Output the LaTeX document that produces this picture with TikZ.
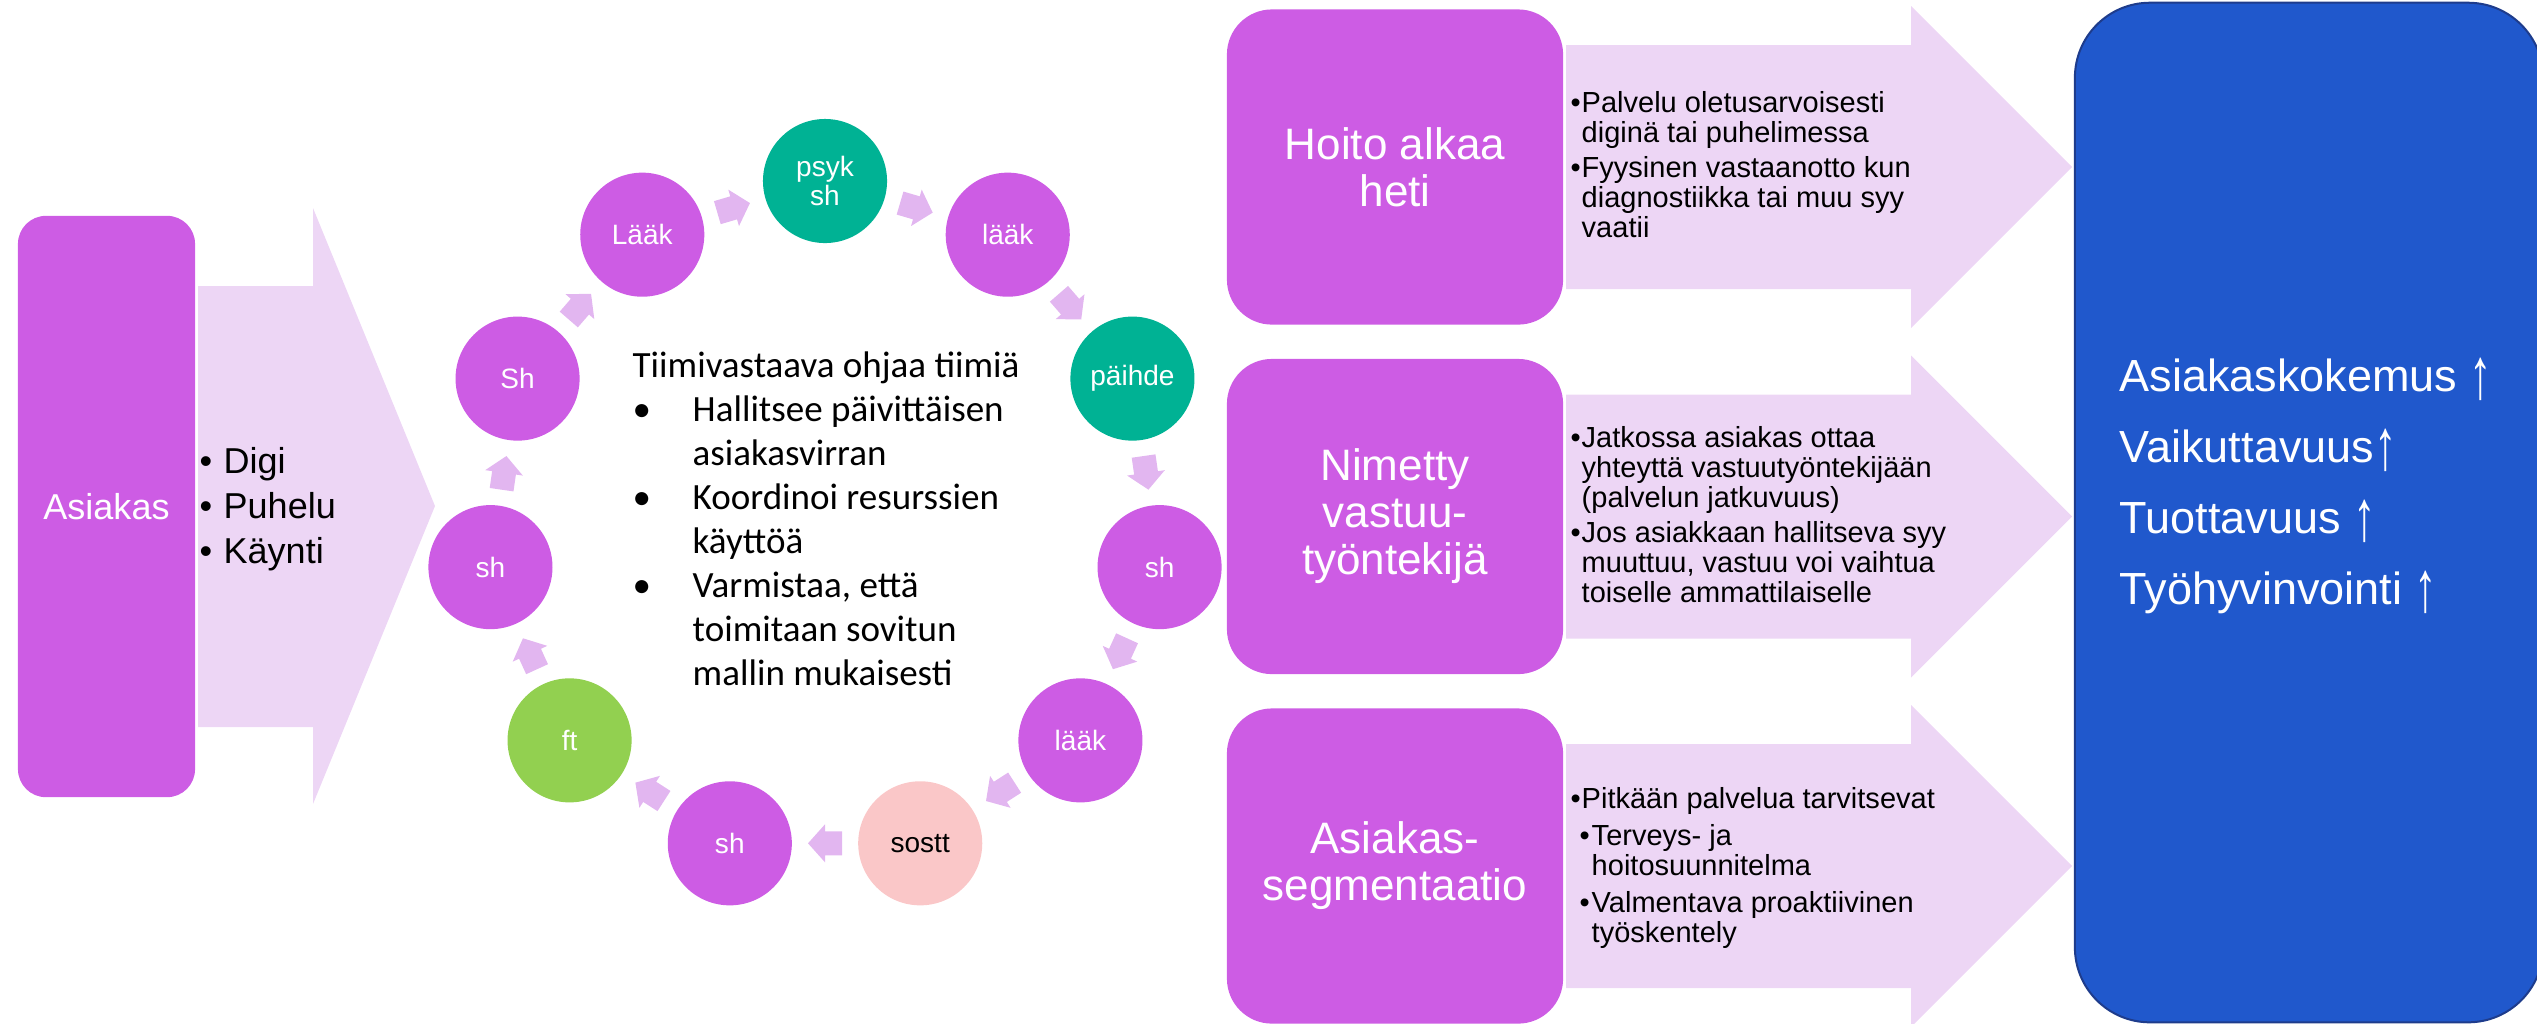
\documentclass[tikz,border=0pt]{standalone}
\usepackage{fontspec}
\usepackage{graphicx}
\setmainfont{Liberation Sans}
\newfontfamily\calibrifont{Carlito}
\usetikzlibrary{calc}
\newcommand\fsz[2]{\fontsize{#1pt}{#2pt}\selectfont}
\newcommand\upmark{\raisebox{-0.17em}{\scalebox{1}[1.6]{↑}}}
\definecolor{purp}{RGB}{205,92,228}
\definecolor{tealc}{RGB}{0,178,148}
\definecolor{lgreen}{RGB}{146,208,80}
\definecolor{pinkc}{RGB}{250,199,200}
\definecolor{bigarr}{RGB}{237,214,245}
\definecolor{smallarr}{RGB}{226,182,240}
\definecolor{bluec}{RGB}{32,88,204}
\definecolor{blueline}{RGB}{30,60,140}
\begin{document}
\begin{tikzpicture}[x=0.01cm,y=-0.01cm,
  purpbox/.style={fill=purp,text=white,inner sep=0,align=center},
  rowbox/.style={purpbox,rounded corners=0.45cm,minimum width=3.36cm,minimum height=3.15cm,font=\fsz{12.52}{13.37}},
  ring/.style={circle,fill=purp,text=white,minimum size=1.24cm,inner sep=0,align=center,font=\fsz{7.97}{8.25}},
  listtext/.style={anchor=base west,inner sep=0,font=\fsz{8.25}{8.54}},
  bigarrow/.style={fill=bigarr},
  cycarrow/.style={fill=smallarr}]
\useasboundingbox (0,0) rectangle (2537,1023);

% ---- customer and contact channels ----
\fill[bigarrow] (198,286) -- (313,286) -- (313,208) -- (435,506) -- (313,804) -- (313,727) -- (198,727) -- cycle;
\node[purpbox,rounded corners=0.28cm,minimum width=1.77cm,minimum height=5.81cm,font=\fsz{10.24}{12.8}] (asiakas) at (106.5,506.5) {Asiakas};
\node[anchor=base west,inner sep=0,font=\fsz{10.24}{12.8}] (kanavat) at (199,473) {\parbox[t]{3cm}{\raggedright
  \makebox[0.24cm][l]{•}Digi\\
  \makebox[0.24cm][l]{•}Puhelu\\
  \makebox[0.24cm][l]{•}Käynti}};

% ---- team cycle ----
\node[ring,fill=tealc] (c0) at (825,181) {psyk\\sh};
\foreach \i/\txt/\col/\tcol in {1/lääk/purp/white, 2/päihde/tealc/white, 3/sh/purp/white,
    4/lääk/purp/white, 5/sostt/pinkc/black, 6/sh/purp/white, 7/ft/lgreen/white,
    8/sh/purp/white, 9/Sh/purp/white, 10/Lääk/purp/white}
  \node[ring,fill=\col,text=\tcol] (c\i) at ({825+338*cos(90-32.7273*\i)},{519-338*sin(90-32.7273*\i)}) {\txt};

\foreach \i in {0,...,10}{
  \pgfmathtruncatemacro\j{mod(\i+1,11)}
  \pgfmathsetmacro\ang{-32.7273*\i-16.3636}
  \begin{scope}[shift={($(c\i)!0.5!(c\j)$)},rotate=\ang]
    \fill[cycarrow] (-17,-12) -- (0,-12) -- (0,-19) -- (17,0) -- (0,19) -- (0,12) -- (-17,12) -- cycle;
  \end{scope}
}

\node[anchor=base west,inner sep=0,font=\calibrifont\fsz{10.53}{12.52}] (tiimi) at (632,377) {\parbox[t]{5cm}{\raggedright
  Tiimivastaava ohjaa tiimiä\\
  \makebox[0.6cm][l]{•}Hallitsee päivittäisen\\
  \hspace*{0.6cm}asiakasvirran\\
  \makebox[0.6cm][l]{•}Koordinoi resurssien\\
  \hspace*{0.6cm}käyttöä\\
  \makebox[0.6cm][l]{•}Varmistaa, että\\
  \hspace*{0.6cm}toimitaan sovitun\\
  \hspace*{0.6cm}mallin mukaisesti}};

% ---- three service principles ----
\foreach \yc in {167,516.5,866}
  \fill[bigarrow] (1566,{\yc-122}) -- (1911,{\yc-122}) -- (1911,{\yc-161}) -- (2072,\yc)
    -- (1911,{\yc+161}) -- (1911,{\yc+122}) -- (1566,{\yc+122}) -- cycle;

\node[rowbox] (hoito) at (1395,167) {Hoito alkaa\\heti};
\node[rowbox] (nimetty) at (1395,516.5) {Nimetty\\vastuu-\\työntekijä};
\node[rowbox] (segmentti) at (1395,866) {Asiakas-\\segmentaatio};

\node[listtext] (hoitoteksti) at (1570,112) {\parbox[t]{4cm}{\raggedright
  \makebox[0.11cm][l]{•}Palvelu oletusarvoisesti\\
  \hspace*{0.11cm}diginä tai puhelimessa\\[0.05cm]
  \makebox[0.11cm][l]{•}Fyysinen vastaanotto kun\\
  \hspace*{0.11cm}diagnostiikka tai muu syy\\
  \hspace*{0.11cm}vaatii}};

\node[listtext] (nimettyteksti) at (1570,447) {\parbox[t]{4cm}{\raggedright
  \makebox[0.11cm][l]{•}Jatkossa asiakas ottaa\\
  \hspace*{0.11cm}yhteyttä vastuutyöntekijään\\
  \hspace*{0.11cm}(palvelun jatkuvuus)\\[0.05cm]
  \makebox[0.11cm][l]{•}Jos asiakkaan hallitseva syy\\
  \hspace*{0.11cm}muuttuu, vastuu voi vaihtua\\
  \hspace*{0.11cm}toiselle ammattilaiselle}};

\node[listtext] (segmenttiteksti) at (1570,808) {\parbox[t]{4cm}{\raggedright
  \makebox[0.11cm][l]{•}Pitkään palvelua tarvitsevat\\[0.07cm]
  \hspace*{0.09cm}\makebox[0.12cm][l]{•}Terveys- ja\\
  \hspace*{0.21cm}hoitosuunnitelma\\[0.07cm]
  \hspace*{0.09cm}\makebox[0.12cm][l]{•}Valmentava proaktiivinen\\
  \hspace*{0.21cm}työskentely}};

% ---- outcomes ----
\node[fill=bluec,draw=blueline,line width=0.02cm,rounded corners=0.75cm,minimum width=4.68cm,minimum height=10.19cm,inner sep=0] (tulos) at (2309,512.5) {};
\node[anchor=base west,inner sep=0,text=white,font=\fsz{12.8}{20.2}] (tulokset) at (2119,391) {\parbox[t]{4.2cm}{\raggedright
  Asiakaskokemus \upmark\\
  Vaikuttavuus\upmark\\
  Tuottavuus \upmark\\
  Työhyvinvointi \upmark}};
\end{tikzpicture}
\end{document}
